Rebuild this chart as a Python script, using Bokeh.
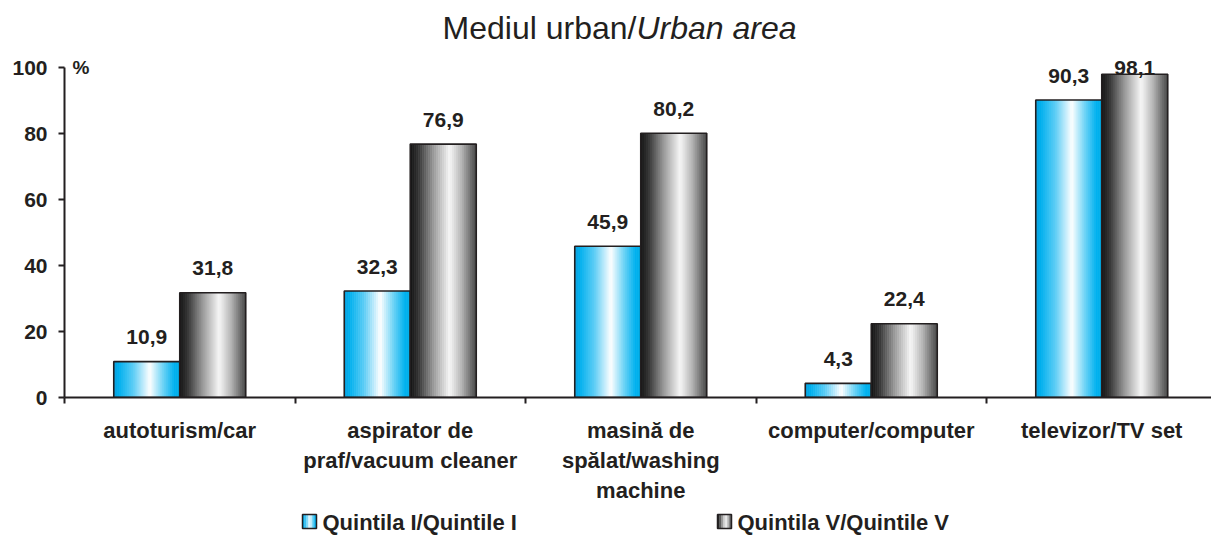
import numpy as np
from bokeh.plotting import figure
from bokeh.layouts import column
from bokeh.models import Range1d, FixedTicker, ColumnDataSource
from bokeh.core.properties import value
from bokeh.embed import file_html
from bokeh.resources import INLINE

# ---------------- data ----------------
categories = [
    "autoturism/car",
    "aspirator de\npraf/vacuum cleaner",
    "masină de\nspălat/washing\nmachine",
    "computer/computer",
    "televizor/TV set",
]
quintile_1 = [10.9, 32.3, 45.9, 4.3, 90.3]
quintile_5 = [31.8, 76.9, 80.2, 22.4, 98.1]
series_names = ["Quintila I/Quintile I", "Quintila V/Quintile V"]
y_ticks = [0, 20, 40, 60, 80, 100]
title_plain = "Mediul urban/"
title_italic = "Urban area"
unit_label = "%"

# ---------------- layout ----------------
W = 1211
H_MAIN = 505
H_LEG = 32
LEFT = 64
FRAME_BOTTOM = 400
PX_CAT = 230.5
PX_UNIT = 3.32
x_end = (W - LEFT) / PX_CAT
y_end = FRAME_BOTTOM / PX_UNIT
BW = 66 / PX_CAT
TXT = "#231f20"
FONT = "Liberation Sans"
LEG_X = [302, 717]
LEG_BOX = 14

p = figure(width=W, height=H_MAIN, x_range=Range1d(0, x_end), y_range=Range1d(0, y_end),
           output_backend="svg", toolbar_location=None, title=None,
           min_border_left=LEFT, min_border_right=0, min_border_top=0,
           min_border_bottom=H_MAIN - FRAME_BOTTOM)
p.xgrid.visible = False
p.ygrid.visible = False
p.outline_line_color = None
p.background_fill_color = "white"
p.border_fill_color = "white"


def hex_rgb(h):
    h = h.lstrip("#")
    return [int(h[i:i + 2], 16) for i in (0, 2, 4)]


def gradient_colors(stops, n):
    pos = [s[0] for s in stops]
    cols = np.array([hex_rgb(s[1]) for s in stops], dtype=float)
    t = (np.arange(n) + 0.5) / n
    out = []
    for tt in t:
        r, g, b = (np.interp(tt, pos, cols[:, k]) for k in range(3))
        out.append("#%02x%02x%02x" % (int(r), int(g), int(b)))
    return out


cyan_stops = [(0.0, "#0a9fdc"), (0.08, "#00b0ef"), (0.3, "#5ccdf6"),
              (0.55, "#ffffff"), (0.75, "#6cd3f6"), (0.92, "#00b2f0"), (1.0, "#00aee8")]
gray_stops = [(0.0, "#141414"), (0.12, "#333333"), (0.35, "#999999"),
              (0.6, "#f7f7f7"), (0.78, "#b5b5b5"), (0.92, "#6e6e6e"), (1.0, "#474747")]
series_stops = [cyan_stops, gray_stops]

N = 33
centers = np.arange(len(categories)) + 0.5


def strips(values, side, stops):
    cols = gradient_colors(stops, N)
    xs, tops, cs = [], [], []
    for c, v in zip(centers, values):
        x0 = c + (-BW if side < 0 else 0.0)
        for k in range(N):
            xs.append(x0 + (k + 0.5) * BW / N)
            tops.append(v)
            cs.append(cols[k])
    return ColumnDataSource(dict(x=xs, top=tops, color=cs))


for vals, side, stops in ((quintile_1, -1, cyan_stops), (quintile_5, 1, gray_stops)):
    src = strips(vals, side, stops)
    p.vbar(x="x", top="top", bottom=0, width=BW / N * 1.2, fill_color="color",
           line_color=None, source=src)
    p.vbar(x=centers + side * BW / 2, top=vals, bottom=0, width=BW,
           fill_color=None, line_color=TXT, line_width=1.6)

# value labels
for vals, side in ((quintile_1, -1), (quintile_5, 1)):
    v = np.array(vals)
    p.text(x=centers + side * BW / 2, y=np.minimum(v + 7.4, 100.0),
           text=[f"{a:.1f}".replace(".", ",") for a in vals],
           text_align="center", text_baseline="middle",
           text_font=value(FONT), text_font_style="bold", text_font_size="21px",
           text_color=TXT)

# title
split_x = (636 - LEFT) / PX_CAT
title_y = (FRAME_BOTTOM - 28) / PX_UNIT
p.text(x=[split_x], y=[title_y], text=[title_plain], text_align="right",
       text_baseline="middle", text_font=value(FONT), text_font_size="32px",
       text_color=TXT)
p.text(x=[split_x], y=[title_y], text=[title_italic], text_align="left",
       text_baseline="middle", text_font=value(FONT), text_font_size="32px",
       text_font_style="italic", text_color=TXT)

# % unit
p.text(x=[0], y=[y_ticks[-1]], text=[unit_label], x_offset=8, text_align="left",
       text_baseline="middle", text_font=value(FONT), text_font_style="bold",
       text_font_size="19px", text_color=TXT)

# axes
xa = p.xaxis[0]
xa.ticker = FixedTicker(ticks=list(centers), minor_ticks=list(range(len(categories) + 1)))
xa.major_label_overrides = {float(c): lab for c, lab in zip(centers, categories)}
xa.major_tick_line_color = None
xa.major_tick_out = 6
xa.major_tick_in = 0
xa.minor_tick_out = 6
xa.minor_tick_in = 0
xa.minor_tick_line_color = TXT
xa.minor_tick_line_width = 2
xa.axis_line_color = TXT
xa.axis_line_width = 2
xa.major_label_text_font = FONT
xa.major_label_text_font_style = "bold"
xa.major_label_text_font_size = "22px"
xa.major_label_text_color = TXT
xa.major_label_standoff = 14

ya = p.yaxis[0]
ya.ticker = FixedTicker(ticks=y_ticks, minor_ticks=[])
ya.bounds = (0, 100)
ya.major_tick_out = 6
ya.major_tick_in = 0
ya.major_tick_line_color = TXT
ya.major_tick_line_width = 2
ya.axis_line_color = TXT
ya.axis_line_width = 2
ya.major_label_text_font = FONT
ya.major_label_text_font_style = "bold"
ya.major_label_text_font_size = "21px"
ya.major_label_text_color = TXT
ya.major_label_standoff = 11

# ---------------- legend strip (page-pixel coordinates; frame aligned with p) ----------------
p2 = figure(width=W, height=H_LEG, x_range=Range1d(LEFT, W), y_range=Range1d(0, H_LEG),
            output_backend="svg", toolbar_location=None, title=None,
            x_axis_location=None, y_axis_location=None,
            min_border_left=LEFT, min_border_right=0, min_border_top=0, min_border_bottom=0)
p2.xgrid.visible = False
p2.ygrid.visible = False
p2.outline_line_color = None
p2.background_fill_color = "white"
p2.border_fill_color = "white"

LEG_Y = 16
NL = 7
for x0, stops, name in zip(LEG_X, series_stops, series_names):
    cols = gradient_colors(stops, NL)
    xs = [x0 + (k + 0.5) * LEG_BOX / NL for k in range(NL)]
    p2.rect(x=xs, y=[LEG_Y] * NL, width=LEG_BOX / NL * 1.2, height=LEG_BOX,
            fill_color=cols, line_color=None)
    p2.rect(x=[x0 + LEG_BOX / 2], y=[LEG_Y], width=LEG_BOX, height=LEG_BOX,
            fill_color=None, line_color=TXT, line_width=1.5)
    p2.text(x=[x0 + LEG_BOX + 6], y=[LEG_Y - 1], text=[name], text_align="left",
            text_baseline="middle", text_font=value(FONT), text_font_style="bold",
            text_font_size="22px", text_color=TXT)

layout = column(p, p2, spacing=0)
open("out.html", "w").write(file_html(layout, INLINE))
